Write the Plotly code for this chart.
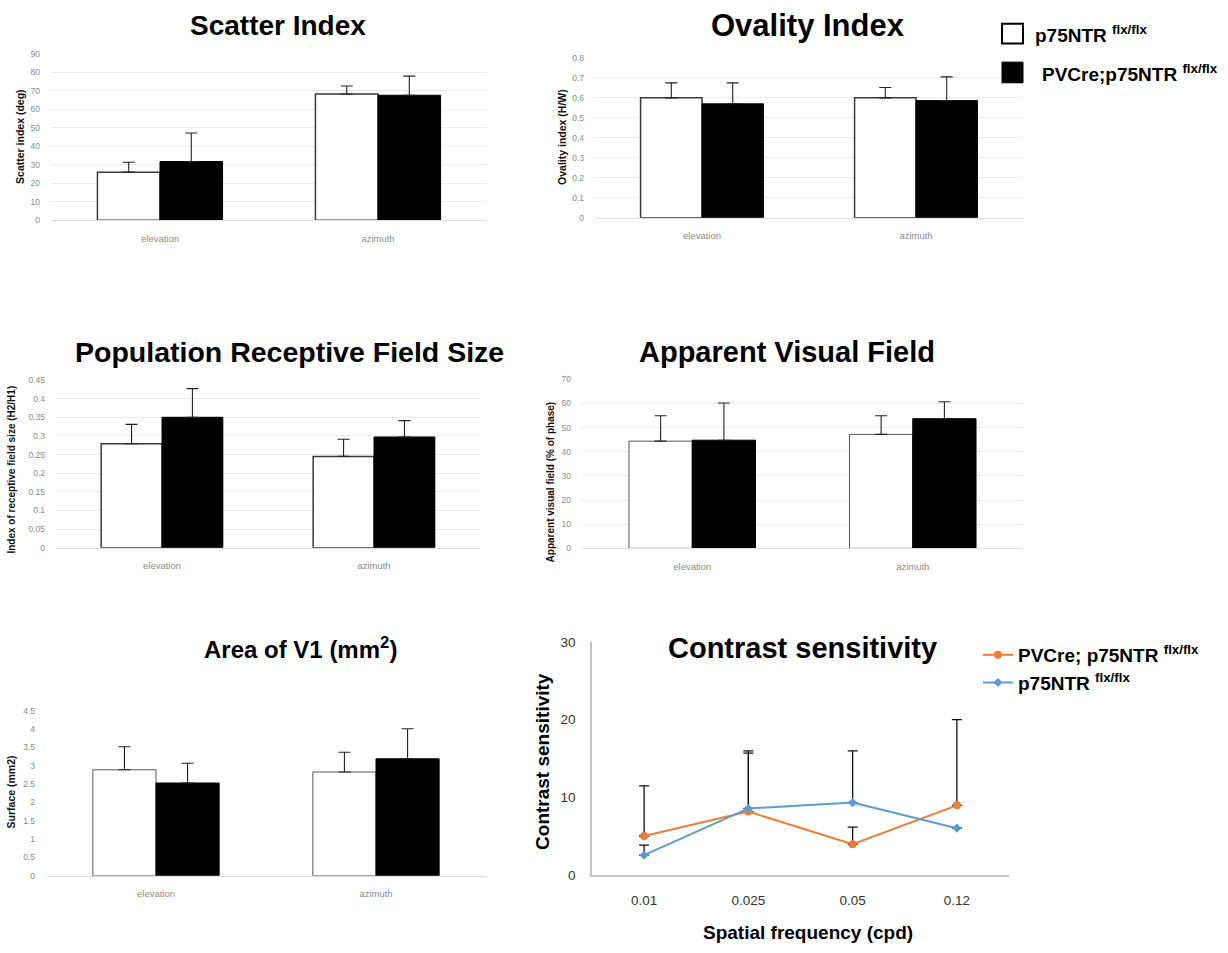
import plotly.graph_objects as go

# ---------------- data ----------------
categories = ["elevation", "azimuth"]

scatter_ctrl = [26.0, 68.2]
scatter_ctrl_err = [5.3, 4.3]
scatter_ko = [31.7, 67.5]
scatter_ko_err = [15.4, 10.3]

oval_ctrl = [0.600, 0.600]
oval_ctrl_err = [0.075, 0.052]
oval_ko = [0.570, 0.586]
oval_ko_err = [0.105, 0.119]

prf_ctrl = [0.279, 0.245]
prf_ctrl_err = [0.052, 0.046]
prf_ko = [0.350, 0.297]
prf_ko_err = [0.077, 0.044]

avf_ctrl = [44.4, 47.2]
avf_ctrl_err = [10.5, 7.7]
avf_ko = [44.8, 53.7]
avf_ko_err = [15.4, 7.0]

area_ctrl = [2.89, 2.83]
area_ctrl_err = [0.63, 0.54]
area_ko = [2.53, 3.19]
area_ko_err = [0.54, 0.82]

freqs = ["0.01", "0.025", "0.05", "0.12"]
cs_ko = [5.06, 8.2, 4.0, 9.0]
cs_ko_err = [6.44, 7.8, 2.2, 11.0]
cs_ctrl = [2.6, 8.6, 9.35, 6.07]
cs_ctrl_err = [1.3, 7.1, 6.65, 0.0]

ctrl_name = "p75NTR"
ko_name = "PVCre;p75NTR"
ko_name_line = "PVCre; p75NTR"
sup = "flx/flx"

# ---------------- layout helpers ----------------
W, H = 1228, 953


def px(x):
    return x / W


def py(y):
    return 1 - y / H


fig = go.Figure()

# panel geometry (pixels): x0, x1, ytop, ybottom, ymax, dtick
panels = [
    dict(x0=51, x1=487, yt=47.3, yb=216.7, ymax=90, dtick=10, ctrl=scatter_ctrl, ce=scatter_ctrl_err,
         ko=scatter_ko, ke=scatter_ko_err, grid=True, wl=1.5, wc="#3a3a3a"),
    dict(x0=595, x1=1023, yt=51.7, yb=214.0, ymax=0.8, dtick=0.1, ctrl=oval_ctrl, ce=oval_ctrl_err,
         ko=oval_ko, ke=oval_ko_err, grid=True, wl=1.5, wc="#3a3a3a"),
    dict(x0=56, x1=480, yt=379.0, yb=549.3, ymax=0.45, dtick=0.05, ctrl=prf_ctrl, ce=prf_ctrl_err,
         ko=prf_ko, ke=prf_ko_err, grid=True, wl=1.5, wc="#3a3a3a"),
    dict(x0=582, x1=1023, yt=378.3, yb=550.0, ymax=70, dtick=10, ctrl=avf_ctrl, ce=avf_ctrl_err,
         ko=avf_ko, ke=avf_ko_err, grid=True, wl=1.0, wc="#555555"),
    dict(x0=46, x1=486, yt=715.0, yb=882.7, ymax=4.5, dtick=0.5, ctrl=area_ctrl, ce=area_ctrl_err,
         ko=area_ko, ke=area_ko_err, grid=False, wl=1.0, wc="#555555"),
]

BW = 0.287
tick_font = dict(family="Liberation Sans", size=8.5, color="#8a8a8a")
cat_font = dict(family="Liberation Sans", size=9.5, color="#8a8a8a")

for i, p in enumerate(panels):
    n = i + 1
    xa = "x" if n == 1 else f"x{n}"
    ya = "y" if n == 1 else f"y{n}"
    fig.add_trace(go.Bar(
        x=categories, y=p["ctrl"], xaxis=xa, yaxis=ya, width=BW, offset=-BW,
        marker=dict(color="white", line=dict(color=p["wc"], width=p["wl"])),
        error_y=dict(type="data", symmetric=False, array=p["ce"], arrayminus=[0, 0],
                     color="#222222", thickness=1.1, width=6),
        showlegend=False, name=ctrl_name))
    fig.add_trace(go.Bar(
        x=categories, y=p["ko"], xaxis=xa, yaxis=ya, width=BW, offset=0,
        marker=dict(color="black", line=dict(color="black", width=1)),
        error_y=dict(type="data", symmetric=False, array=p["ke"], arrayminus=[0, 0],
                     color="#222222", thickness=1.1, width=6),
        showlegend=False, name=ko_name))
    xkey = "xaxis" if n == 1 else f"xaxis{n}"
    ykey = "yaxis" if n == 1 else f"yaxis{n}"
    fig.update_layout({
        xkey: dict(domain=[px(p["x0"]), px(p["x1"])], anchor=ya, type="category",
                   range=[-0.5, 1.5], showgrid=False, zeroline=False, showline=True,
                   linecolor="#dddddd", linewidth=1, ticks="", tickfont=cat_font,
                   ticklabelstandoff=9),
        ykey: dict(domain=[py(p["yb"]), py(p["yt"])], anchor=xa, range=[0, p["ymax"]],
                   dtick=p["dtick"], tick0=0, showgrid=p["grid"], gridcolor="#e9e9e9",
                   gridwidth=1, zeroline=False, showline=False, ticks="", tickfont=tick_font,
                   ticklabelstandoff=10),
    })

# contrast sensitivity panel
orange = "#ED7D31"
blue = "#5B9BD5"
fig.add_trace(go.Scatter(
    x=freqs, y=cs_ko, xaxis="x6", yaxis="y6", mode="lines+markers",
    line=dict(color=orange, width=2), marker=dict(color=orange, size=8, symbol="circle"),
    error_y=dict(type="data", symmetric=False, array=cs_ko_err, arrayminus=[0, 0, 0, 0],
                 color="#111111", thickness=1.3, width=5),
    name=f"<b>{ko_name_line} <sup>{sup}</sup></b>"))
fig.add_trace(go.Scatter(
    x=freqs, y=cs_ctrl, xaxis="x6", yaxis="y6", mode="lines+markers",
    line=dict(color=blue, width=2), marker=dict(color=blue, size=7, symbol="diamond"),
    error_y=dict(type="data", symmetric=False, array=cs_ctrl_err, arrayminus=[0, 0, 0, 0],
                 color="#111111", thickness=1.3, width=5),
    name=f"<b>{ctrl_name} <sup>{sup}</sup></b>"))

fig.update_layout(
    xaxis6=dict(domain=[px(592), px(1009)], anchor="y6", type="category", range=[-0.5, 3.5],
                showgrid=False, zeroline=False, showline=True, linecolor="#c4c4c4", linewidth=1.5,
                ticks="", tickfont=dict(family="Liberation Sans", size=13.5, color="#333333"),
                ticklabelstandoff=12),
    yaxis6=dict(domain=[py(882.3), py(645)], anchor="x6", range=[0, 30], dtick=10,
                showgrid=False, zeroline=False, showline=True, linecolor="#c4c4c4", linewidth=1.5,
                ticks="", tickfont=dict(family="Liberation Sans", size=13.5, color="#333333"),
                ticklabelstandoff=12),
)

# ---------------- annotations ----------------
ann = []


def text(x, y, s, size, color="black", angle=0, xanchor="center", family="Liberation Sans"):
    ann.append(dict(x=px(x), y=py(y), xref="paper", yref="paper", text=s, showarrow=False,
                    textangle=angle, xanchor=xanchor, yanchor="middle",
                    font=dict(family=family, size=size, color=color)))


# titles
text(278, 19, "<b>Scatter Index</b>", 28)
text(808, 19, "<b>Ovality Index</b>", 31)
text(289, 351, "<b>Population Receptive Field Size</b>", 28.5)
text(787, 351, "<b>Apparent Visual Field</b>", 29)
text(300, 651, "<b>Area of V1 (mm<sup>2</sup>)</b>", 24)
text(802, 651, "<b>Contrast sensitivity</b>", 29)

# y-axis titles
ytf = 10.5
text(20, 132, "<b>Scatter index (deg)</b>", ytf, color="#111111", angle=-90)
text(562, 132, "<b>Ovality index (H/W)</b>", ytf, color="#111111", angle=-90)
text(12, 470, "<b>Index of receptive field size (H2/H1)</b>", 10, color="#111111", angle=-90)
text(550, 483, "<b>Apparent visual field (% of phase)</b>", 10, color="#111111", angle=-90)
text(11, 798, "<b>Surface (mm2)</b>", ytf, color="#111111", angle=-90)
text(543, 767, "<b>Contrast sensitivity</b>", 19, angle=-90)
text(808, 940, "<b>Spatial frequency (cpd)</b>", 19)

# bar legend (top right)
text(1033, 27, f"<b>{ctrl_name} <sup>{sup}</sup></b>", 19, xanchor="left")
text(1040, 67, f"<b>{ko_name} <sup>{sup}</sup></b>", 19, xanchor="left")

shapes = [
    dict(type="rect", xref="paper", yref="paper", x0=px(1002), x1=px(1023), y0=py(37), y1=py(17),
         line=dict(color="black", width=2), fillcolor="white"),
    dict(type="rect", xref="paper", yref="paper", x0=px(1002), x1=px(1023), y0=py(77), y1=py(56),
         line=dict(color="black", width=1), fillcolor="black"),
]

fig.update_layout(
    width=W, height=H, margin=dict(l=0, r=0, t=0, b=0),
    paper_bgcolor="white", plot_bgcolor="white",
    barmode="overlay",
    annotations=ann, shapes=shapes,
    showlegend=True,
    legend=dict(x=px(978), y=py(639), xanchor="left", yanchor="top", bgcolor="rgba(0,0,0,0)",
                font=dict(family="Liberation Sans", size=19, color="black"), itemwidth=30,
                tracegroupgap=0),
)

fig.write_html("out.html", config={"displayModeBar": False},
               post_script="document.body.style.margin='0';")
